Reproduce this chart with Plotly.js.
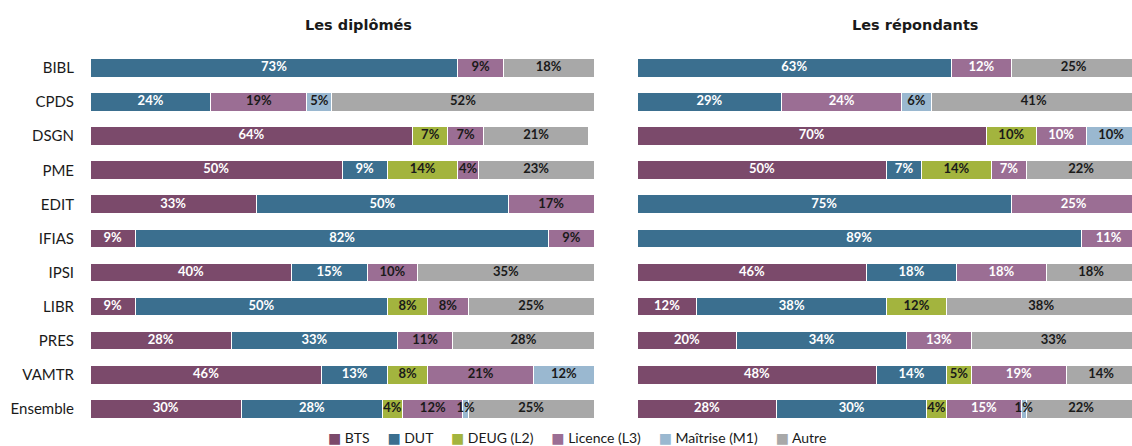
<!DOCTYPE html>
<html>
<head>
<meta charset="utf-8">
<script src="https://cdn.plot.ly/plotly-3.0.1.min.js"></script>
<style>html,body{margin:0;padding:0;background:#fff;}#chart{width:1132px;height:446px;}</style>
</head>
<body>
<div id="chart"></div>
<script>
const categories = ['BIBL','CPDS','DSGN','PME','EDIT','IFIAS','IPSI','LIBR','PRES','VAMTR','Ensemble'];
const seriesNames = ['BTS','DUT','DEUG (L2)','Licence (L3)','Maîtrise (M1)','Autre'];

// Les diplômés
const diplBTS      = [0, 0, 64, 50, 33, 9, 40, 9, 28, 46, 30];
const diplDUT      = [73, 24, 0, 9, 50, 82, 15, 50, 33, 13, 28];
const diplDEUG     = [0, 0, 7, 14, 0, 0, 0, 8, 0, 8, 4];
const diplLicence  = [9, 19, 7, 4, 17, 9, 10, 8, 11, 21, 12];
const diplMaitrise = [0, 5, 0, 0, 0, 0, 0, 0, 0, 12, 1];
const diplAutre    = [18, 52, 21, 23, 0, 0, 35, 25, 28, 0, 25];

// Les répondants
const repBTS      = [0, 0, 70, 50, 0, 0, 46, 12, 20, 48, 28];
const repDUT      = [63, 29, 0, 7, 75, 89, 18, 38, 34, 14, 30];
const repDEUG     = [0, 0, 10, 14, 0, 0, 0, 12, 0, 5, 4];
const repLicence  = [12, 24, 10, 7, 25, 11, 18, 0, 13, 19, 15];
const repMaitrise = [0, 6, 10, 0, 0, 0, 0, 0, 0, 0, 1];
const repAutre    = [25, 41, 0, 22, 0, 0, 18, 38, 33, 14, 22];

const colors = ['#7b4a6b', '#3b6f8f', '#a3b43e', '#9b6e94', '#9ab8d0', '#a8a8a8'];
const leftTextColors  = ['#ffffff', '#ffffff', '#1a1a1a', '#1a1a1a', '#1a1a1a', '#1a1a1a'];
const rightTextColors = ['#ffffff', '#ffffff', '#1a1a1a', '#ffffff', '#1a1a1a', '#1a1a1a'];

const leftSets  = [diplBTS, diplDUT, diplDEUG, diplLicence, diplMaitrise, diplAutre];
const rightSets = [repBTS, repDUT, repDEUG, repLicence, repMaitrise, repAutre];

const fontFam = 'Lato, "Open Sans", "DejaVu Sans", sans-serif';

function barTrace(vals, i, side) {
  return {
    type: 'bar', orientation: 'h',
    x: vals.map(x => x === 0 ? null : x), y: categories,
    name: seriesNames[i],
    showlegend: false,
    xaxis: side === 'L' ? 'x' : 'x2',
    yaxis: side === 'L' ? 'y' : 'y2',
    marker: { color: colors[i], line: { color: '#ffffff', width: 1 } },
    textposition: 'none',
    hoverinfo: 'skip'
  };
}

// value labels placed at the middle of each stacked segment (computed from the data)
function labelTrace(sets, i, side) {
  const xs = [], ys = [], ts = [];
  categories.forEach((c, k) => {
    const v = sets[i][k];
    if (!v) return;
    let before = 0;
    for (let j = 0; j < i; j++) before += sets[j][k];
    xs.push(before + v / 2); ys.push(c); ts.push(v + '%');
  });
  return {
    type: 'scatter', mode: 'text',
    x: xs, y: ys, text: ts,
    textposition: 'middle center',
    cliponaxis: false,
    showlegend: false,
    xaxis: side === 'L' ? 'x' : 'x2',
    yaxis: side === 'L' ? 'y' : 'y2',
    textfont: { family: fontFam, size: 13, weight: 'bold',
                color: side === 'L' ? leftTextColors[i] : rightTextColors[i] },
    hoverinfo: 'skip'
  };
}

const data = [];
leftSets.forEach((s, i) => data.push(barTrace(s, i, 'L')));
rightSets.forEach((s, i) => data.push(barTrace(s, i, 'R')));
leftSets.forEach((s, i) => data.push(labelTrace(leftSets, i, 'L')));
rightSets.forEach((s, i) => data.push(labelTrace(rightSets, i, 'R')));

const rowH = 34.4;
const yTop = 1 - (66.3 - rowH / 2) / 446, yBot = 1 - (410.5 + rowH / 2) / 446;

// legend built from the series names and colours
const legendText = seriesNames.map((n, i) =>
  '<span style="color:' + colors[i] + '">■</span> ' + n).join('&nbsp;&nbsp;&nbsp;&nbsp;&nbsp;');

const layout = {
  width: 1132, height: 446,
  margin: { l: 0, r: 0, t: 0, b: 0 },
  paper_bgcolor: '#ffffff', plot_bgcolor: '#ffffff',
  barmode: 'stack', bargap: 0.45,
  showlegend: false,
  font: { family: fontFam, color: '#1a1a1a' },
  xaxis: { domain: [90 / 1132, 594 / 1132], range: [0, 100], visible: false, fixedrange: true },
  xaxis2: { domain: [637 / 1132, 1], range: [0, 99.2], visible: false, fixedrange: true },
  yaxis: { domain: [yBot, yTop], autorange: 'reversed', anchor: 'x', showgrid: false, zeroline: false, showline: false,
           ticks: '', ticklabelstandoff: 15, tickfont: { family: fontFam, size: 15, color: '#1a1a1a' } },
  yaxis2: { domain: [yBot, yTop], autorange: 'reversed', anchor: 'x2', showgrid: false, zeroline: false, showline: false,
            showticklabels: false, ticks: '' },
  annotations: [
    { text: '<b>Les diplômés</b>', xref: 'paper', yref: 'paper', x: 358 / 1132, y: 1 - 25 / 446, xanchor: 'center', yanchor: 'middle',
      showarrow: false, font: { family: '"DejaVu Sans", sans-serif', size: 14.5, color: '#1a1a1a' } },
    { text: '<b>Les répondants</b>', xref: 'paper', yref: 'paper', x: 915 / 1132, y: 1 - 25 / 446, xanchor: 'center', yanchor: 'middle',
      showarrow: false, font: { family: '"DejaVu Sans", sans-serif', size: 14.5, color: '#1a1a1a' } },
    { text: legendText, xref: 'paper', yref: 'paper', x: 577 / 1132, y: 1 - 437 / 446, xanchor: 'center', yanchor: 'middle',
      showarrow: false, font: { family: fontFam, size: 14, color: '#1a1a1a' } }
  ]
};

Plotly.newPlot('chart', data, layout, { displayModeBar: false, staticPlot: true });
</script>
</body>
</html>
